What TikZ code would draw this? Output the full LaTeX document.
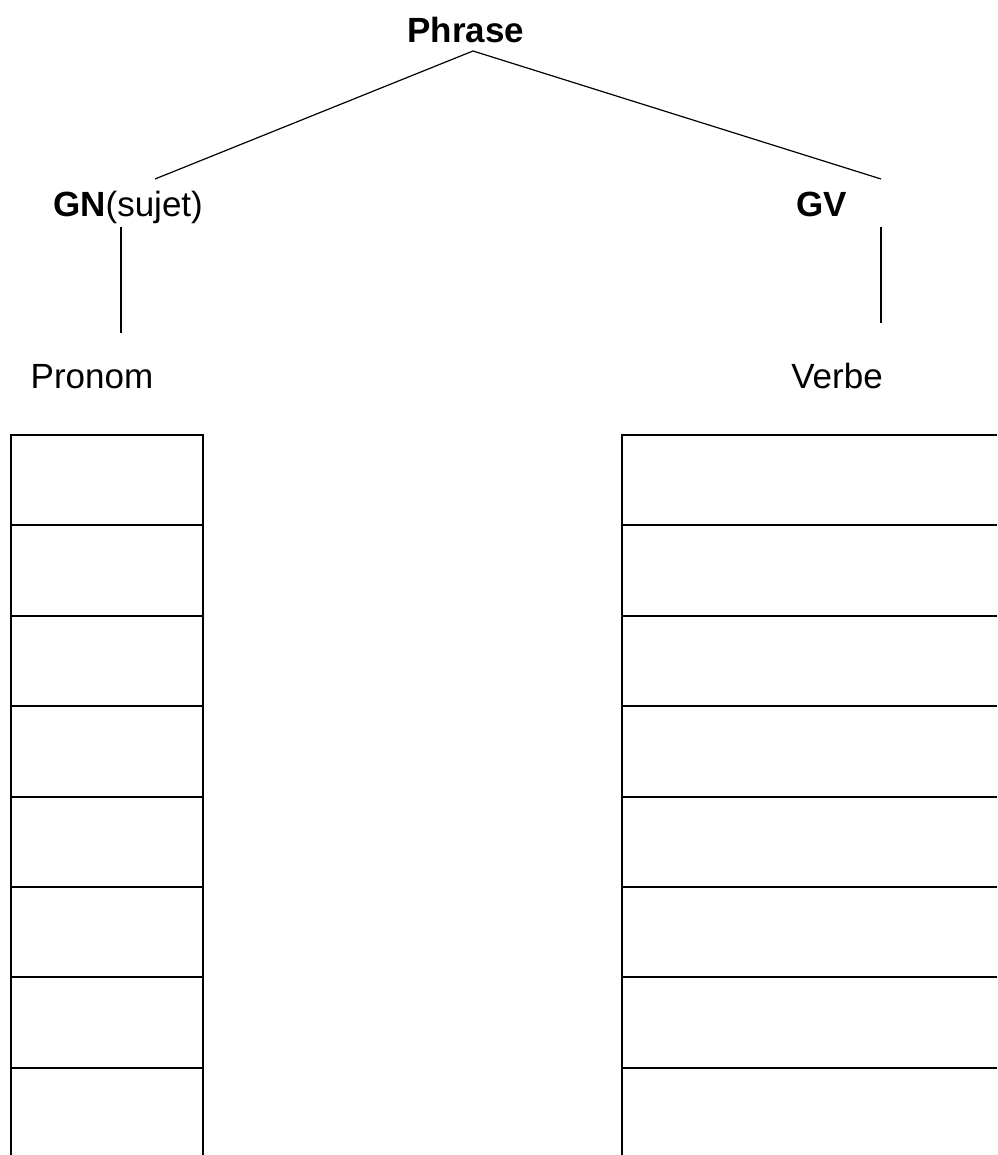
\documentclass[tikz,border=0pt]{standalone}
\usepackage{fontspec}
\setmainfont{Liberation Sans}
\usepackage{xcolor}

\begin{document}
\begin{tikzpicture}[x=1pt, y=-1pt,
	lbl/.style={inner sep=0pt, anchor=base, font=\fontsize{35}{42}\selectfont},
	bold lbl/.style={lbl, font=\fontsize{35}{42}\selectfont\bfseries},
	branch/.style={line width=1.2pt},
	cell/.style={line width=2pt}]
	\useasboundingbox (0,0) rectangle (997,1155);
	\node (phrase) [bold lbl] at (466,43) {Phrase};
	\node (gn) [lbl] at (128,217) {\textbf{GN}(sujet)};
	\node (gv) [bold lbl] at (822,217) {GV};
	\node (pronom) [lbl] at (92,388) {Pronom};
	\node (verbe) [lbl] at (837,388) {Verbe};
	\coordinate (phraseFoot) at (473,51);
	\coordinate (gnHead) at (155,179);
	\coordinate (gvHead) at (881,179);
	\coordinate (gnFoot) at (121,227);
	\coordinate (pronomHead) at (121,333);
	\coordinate (gvFoot) at (881,227);
	\coordinate (verbeHead) at (881,323);
	\draw[branch] (phraseFoot) -- (gnHead);
	\draw[branch] (phraseFoot) -- (gvHead);
	\draw[branch] (gnFoot) -- (pronomHead);
	\draw[branch] (gvFoot) -- (verbeHead);
	\foreach \r [evaluate=\r as \y using 435+90.4*\r] in {0,...,7} {
		\draw[cell] (11,\y) -- (203,\y);
		\draw[cell] (622,\y) -- (997,\y);
	}
	\draw[cell] (11,434) -- (11,1155);
	\draw[cell] (203,434) -- (203,1155);
	\draw[cell] (622,434) -- (622,1155);
\end{tikzpicture}
\end{document}
